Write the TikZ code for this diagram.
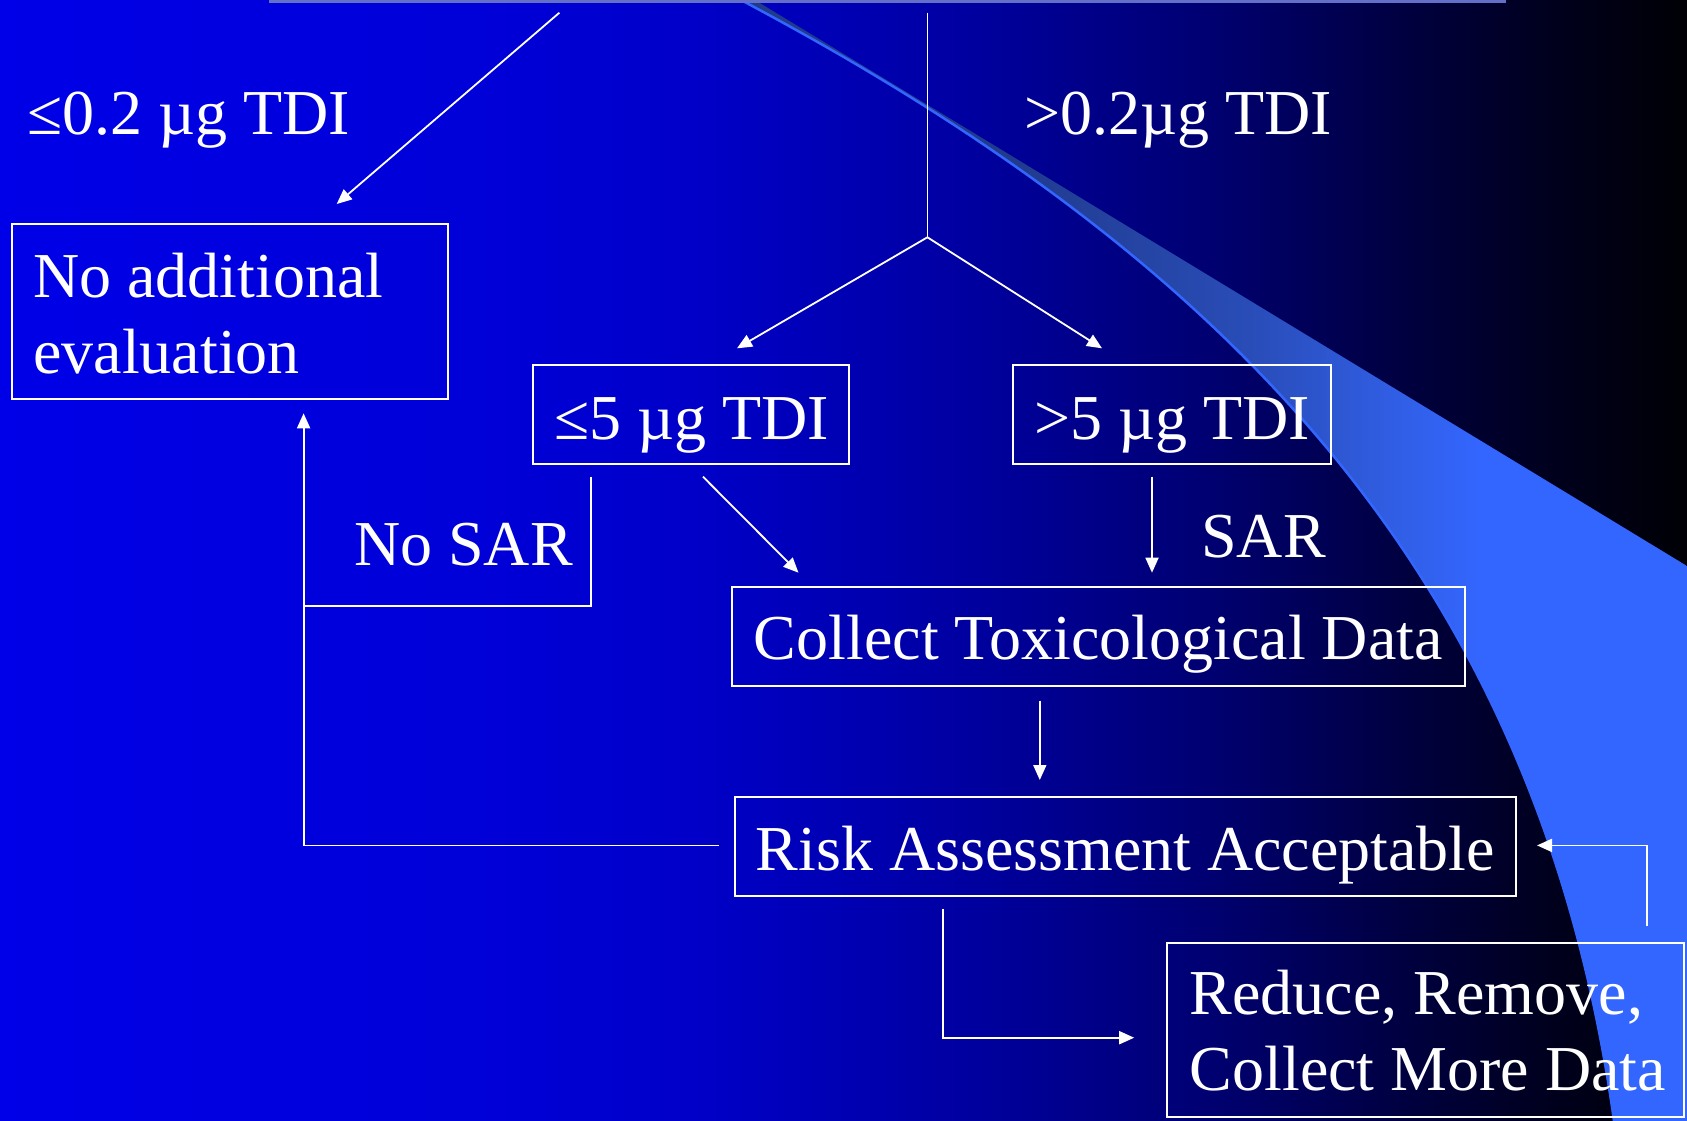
\documentclass[tikz,border=0pt]{standalone}
\usepackage{fontspec}
\setmainfont{Liberation Serif}
\usetikzlibrary{arrows.meta}
\pgfdeclarehorizontalshading{bgshade}{100bp}{rgb(0bp)=(0,0,0.91); rgb(25bp)=(0,0,0.91); rgb(39.8bp)=(0,0,0.843); rgb(45.7bp)=(0,0,0.784); rgb(52.9bp)=(0,0,0.647); rgb(60.6bp)=(0,0,0.451); rgb(66.5bp)=(0,0,0.255); rgb(70.9bp)=(0,0,0.118); rgb(75bp)=(0,0,0.02); rgb(100bp)=(0,0,0.02)}
\pgfdeclarehorizontalshading{wedgeshade}{100bp}{rgb(0bp)=(0.125,0.227,0.55); rgb(39.1bp)=(0.125,0.227,0.55); rgb(51.9bp)=(0.16,0.3,0.72); rgb(59.8bp)=(0.19,0.37,0.9); rgb(64.1bp)=(0.2,0.4,1); rgb(100bp)=(0.2,0.4,1)}
\definecolor{curveblue}{RGB}{51,102,255}
\definecolor{topline}{RGB}{100,112,200}
\newcommand\twoln[3]{\vtop{\hbox to #1{#2\hss}\hbox to #1{#3\hss}}}
\begin{document}
\begin{tikzpicture}[x=1pt,y=-1pt,
  box/.style={draw=white, line width=2pt, text=white, inner sep=0pt, outer sep=0pt, anchor=north west, font=\fontsize{64}{76}\selectfont},
  lbl/.style={text=white, inner sep=0pt, anchor=base west, font=\fontsize{64}{76}\selectfont},
  conn/.style={draw=white, line width=1.8pt},
  arr/.style={conn, -{Triangle[length=15pt,width=13pt]}}]
\useasboundingbox (0,0) rectangle (1687,1121);
% background
\shade[shading=bgshade] (0,0) rectangle (1687,1121);
% light wedge: region right of the curve, below the straight edge
\begin{scope}
  \clip (600,-94) -- (1687,566) -- (1687,1121) -- (600,1121) -- cycle;
  \shade[shading=wedgeshade] (741,0) .. controls (1227,258) and (1538,577) .. (1614,1121) -- (1687,1121) -- (1687,0) -- cycle;
\end{scope}
\draw[curveblue, line width=2.5pt] (741,0) .. controls (1227,258) and (1538,577) .. (1614,1121);
\draw[topline, line width=3pt] (269,1.5) -- (1506,1.5);
% boxes
\node[box, minimum width=436pt, text height=73pt, text depth=102pt] (noadd) at (11.7,224.3) {\twoln{392.8pt}{No additional}{evaluation}};
\node[box, minimum width=316pt, text height=74pt, text depth=24.7pt] (le5) at (533.4,365) {≤5 µg TDI};
\node[box, minimum width=317.7pt, text height=74pt, text depth=24.7pt] (gt5) at (1013.3,365) {>5 µg TDI};
\node[box, minimum width=733.4pt, text height=72.5pt, text depth=26.5pt] (coll) at (731.6,587) {Collect Toxicological Data};
\node[box, minimum width=780.4pt, text height=73pt, text depth=25.7pt] (risk) at (735.2,797) {Risk Assessment Acceptable};
\node[box, minimum width=516.6pt, text height=71.6pt, text depth=103pt] (reduce) at (1167,942.7) {\twoln{471pt}{Reduce, Remove,}{Collect More Data}};
% labels
\node[lbl] (l02) at (26.9,134.3) {≤0.2 µg TDI};
\node[lbl] (g02) at (1024.2,134.3) {>0.2µg TDI};
\node[lbl] (nosarl) at (354,565) {No SAR};
\node[lbl] (sarl) at (1201,557.3) {SAR};
% connector ends
\coordinate (p1s) at (559.4,12.7); \coordinate (p1e) at (336.7,204);
\coordinate (vtop) at (927.4,12.7); \coordinate (br) at (927.4,237.3);
\coordinate (le5in) at (737,348.3); \coordinate (gt5in) at (1102,348.3);
\coordinate (le5out) at (703,476.7); \coordinate (collinA) at (798.5,572.7);
\coordinate (gt5out) at (1152,476.7); \coordinate (collinB) at (1152,572.7);
\coordinate (collout) at (1039.8,700.7); \coordinate (riskin) at (1039.8,780);
\coordinate (nosar1) at (591.3,476.7); \coordinate (nosar2) at (303.6,605.7);
\coordinate (riskL) at (718.7,845.4); \coordinate (noaddin) at (303.6,413.3);
\coordinate (riskB) at (943,908.7); \coordinate (redin) at (1134.2,1037.7);
\coordinate (redout) at (1647.1,926); \coordinate (riskR) at (1537,845.4);
% connectors
\draw[arr] (p1s) -- (p1e);
\draw[conn] (vtop) -- (br);
\draw[arr] (br) -- (le5in);
\draw[arr] (br) -- (gt5in);
\draw[arr] (le5out) -- (collinA);
\draw[arr] (gt5out) -- (collinB);
\draw[arr] (collout) -- (riskin);
\draw[conn] (nosar1) |- (nosar2);
\draw[arr] (riskL) -| (noaddin);
\draw[arr] (riskB) |- (redin);
\draw[arr] (redout) |- (riskR);
\end{tikzpicture}
\end{document}
